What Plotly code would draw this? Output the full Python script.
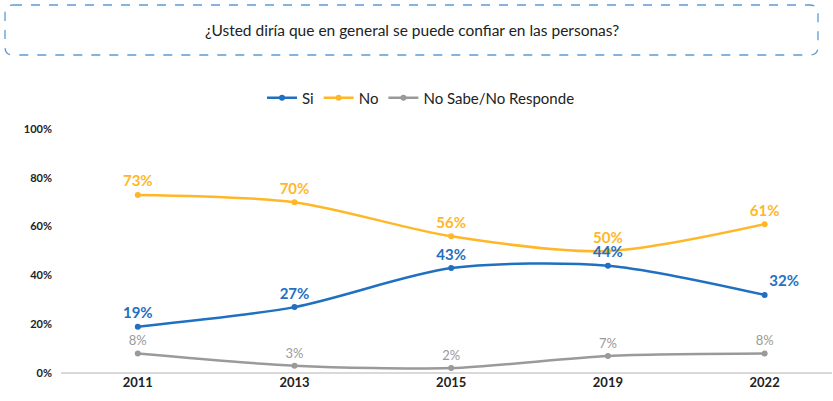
import plotly.graph_objects as go

years = ["2011", "2013", "2015", "2019", "2022"]
si = [19, 27, 43, 44, 32]
no = [73, 70, 56, 50, 61]
nsnr = [8, 3, 2, 7, 8]
y_ticks = [0, 20, 40, 60, 80, 100]
title_text = "¿Usted diría que en general se puede confiar en las personas?"

W, H = 833, 401
L, R, T, B = 61, 832, 129, 373

def px(x):
    return (x - L) / (R - L)

def py(y):
    return (B - y) / (B - T)

BLUE = "#1F70C1"
ORANGE = "#FFB727"
GRAY = "#9A9A9A"
FONT = "Lato"

xs = list(range(len(years)))
fig = go.Figure()

def add(name, vals, color, bold, size, positions, rank):
    txt = [f"<b>{v}%</b>" if bold else f"{v}%" for v in vals]
    fig.add_trace(go.Scatter(
        x=xs, y=vals, name=name, mode="lines+markers+text",
        line=dict(color=color, width=2.5, shape="spline", smoothing=0.8),
        marker=dict(color=color, size=6),
        text=txt, textposition=positions,
        textfont=dict(color=color, size=size, family=FONT),
        cliponaxis=False, legendrank=rank,
    ))

add("No", no, ORANGE, True, 15, ["top center"] * 5, 2)
add("Si", si, BLUE, True, 15, ["top center"] * 4 + ["top right"], 1)
add("No Sabe/No Responde", nsnr, GRAY, False, 13, ["top center"] * 5, 3)

# dashed rounded title box
x0, x1, y0, y1, r = 5, 818, 5, 55, 8
path = (f"M {px(x0+r)},{py(y0)} L {px(x1-r)},{py(y0)} Q {px(x1)},{py(y0)} {px(x1)},{py(y0+r)} "
        f"L {px(x1)},{py(y1-r)} Q {px(x1)},{py(y1)} {px(x1-r)},{py(y1)} "
        f"L {px(x0+r)},{py(y1)} Q {px(x0)},{py(y1)} {px(x0)},{py(y1-r)} "
        f"L {px(x0)},{py(y0+r)} Q {px(x0)},{py(y0)} {px(x0+r)},{py(y0)} Z")
fig.add_shape(type="path", path=path, xref="paper", yref="paper",
              line=dict(color="#5B9BD5", width=1.3, dash="dash"))
fig.add_annotation(text=title_text, x=px(412), y=py(30), xref="paper", yref="paper",
                   showarrow=False, font=dict(size=15.5, color="#222222", family=FONT),
                   xanchor="center", yanchor="middle")

fig.update_layout(
    width=W, height=H,
    margin=dict(l=L, r=W - R, t=T, b=H - B),
    paper_bgcolor="white", plot_bgcolor="white",
    font=dict(family=FONT, color="#222222"),
    showlegend=True,
    legend=dict(orientation="h", x=px(421), y=py(98), xanchor="center", yanchor="middle",
                font=dict(size=15, family=FONT, color="#222222"), itemwidth=30,
                traceorder="normal"),
    xaxis=dict(tickmode="array", tickvals=xs, ticktext=[f"<b>{y}</b>" for y in years],
               range=[-0.49, 4.43], showgrid=False, zeroline=False, showline=False,
               tickfont=dict(size=13, color="#222222", family=FONT), ticks=""),
    yaxis=dict(range=[0, 100], tickvals=y_ticks, ticktext=[f"<b>{v}%</b>" for v in y_ticks],
               showgrid=False, zeroline=True, zerolinecolor="#D9D9D9", zerolinewidth=1.5,
               showline=False, tickfont=dict(size=11, color="#222222", family=FONT),
               ticks="", ticklabelstandoff=8),
)

fig.write_html("out.html", config={"displayModeBar": False},
               post_script="document.body.style.margin='0';document.body.style.overflow='hidden';")
